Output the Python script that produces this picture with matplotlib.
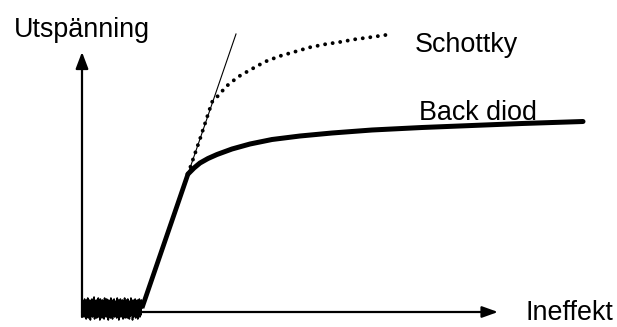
import numpy as np
import matplotlib
matplotlib.use("Agg")
import matplotlib.pyplot as plt

plt.rcParams['font.family'] = ['Liberation Sans', 'DejaVu Sans']

# Input power (x) and output voltage (y), arbitrary units
noise_y = [3, 11, -5, 13, -2, 9, -7, 12, 0, 14, -6, 8, -3, 12, -8, 10, -1, 13,
           -5, 9, -4, 15, -7, 11, -2, 12, -6, 10, -3, 14, -5, 8, -8, 13, -1, 11,
           -6, 12, -4, 9, -7, 14, -2, 10, -5, 13, -3, 11, -8, 12, -1, 9, -6, 14,
           -4, 10, -7, 12, -2, 13, -5, 11, -3, 9, -6, 14, -4, 12, -8, 10, -1, 13,
           -5, 11, -3, 12, -7, 9, -2, 14, -6, 10, -4, 12, -6, 13, -2, 10, -7, 11,
           -4, 14, -1, 9, -8, 12, -5, 10, -3, 13, -6, 11, -2, 12, -7, 9, -4, 13,
           -5, 10, -3, 12, 4]
noise_x_range = (1, 60)

ramp_x = [60, 106]
ramp_y = [4, 138]

tangent_x = [60, 154]
tangent_y = [4, 278]

schottky_x = [106, 118, 130, 134.7, 144.7, 156.3, 168, 183, 198, 213, 228, 243,
              258, 273, 288, 303.7]
schottky_y = [138, 173, 210, 214.7, 226, 235.3, 242, 250.3, 256, 260.3, 264.7,
              267.7, 270, 272.7, 274.7, 277]

backdiod_x = [106, 112, 118, 126, 135, 150, 168, 190, 218, 250, 290, 340, 390,
              440, 501]
backdiod_y = [138, 144, 149, 153.5, 157.5, 163, 168, 172.5, 176, 179, 182,
              184.5, 186.5, 188.5, 190.5]

x_axis_end = 416
y_axis_end = 260

fig = plt.figure(figsize=(6.17, 3.27), dpi=100)
ax = fig.add_axes([0, 0, 1, 1])
ax.set_xlim(-82, 535)
ax.set_ylim(-15, 312)
ax.axis('off')

# Axes with arrowheads
arrow_kw = dict(arrowstyle='-|>,head_length=10,head_width=3.8', color='black',
                lw=1.6, shrinkA=0, shrinkB=0, mutation_scale=1)
ax.annotate('', xy=(0, y_axis_end), xytext=(0, -5), arrowprops=arrow_kw)
ax.annotate('', xy=(x_axis_end, 0), xytext=(0, 0),
            arrowprops=dict(arrow_kw, arrowstyle='-|>,head_length=9.5,head_width=3.4'))

# Noise floor
nx = np.linspace(noise_x_range[0], noise_x_range[1], len(noise_y))
ax.plot(nx, noise_y, color='black', lw=1.2, zorder=3)

# Tangent line
ax.plot(tangent_x, tangent_y, color='black', lw=0.8, zorder=3)

# Linear region
ax.plot(ramp_x, ramp_y, color='black', lw=3.4, solid_capstyle='butt', zorder=4)

# Schottky response (dotted)
ax.plot(schottky_x, schottky_y, color='black', lw=2.8,
        linestyle=(0, (0.01, 1.95)), dash_capstyle='round', zorder=4)

# Back diode response
ax.plot(backdiod_x, backdiod_y, color='black', lw=3.6, solid_capstyle='round',
        solid_joinstyle='round', zorder=4)

fs = 19.4
ax.text(-68, 275.3, 'Utspänning', fontsize=fs, ha='left', va='baseline')
ax.text(333, 260, 'Schottky', fontsize=fs, ha='left', va='baseline')
ax.text(337, 192, 'Back diod', fontsize=fs, ha='left', va='baseline')
ax.text(443, -8.5, 'Ineffekt', fontsize=fs, ha='left', va='baseline')

fig.savefig('out.png', dpi=100)
